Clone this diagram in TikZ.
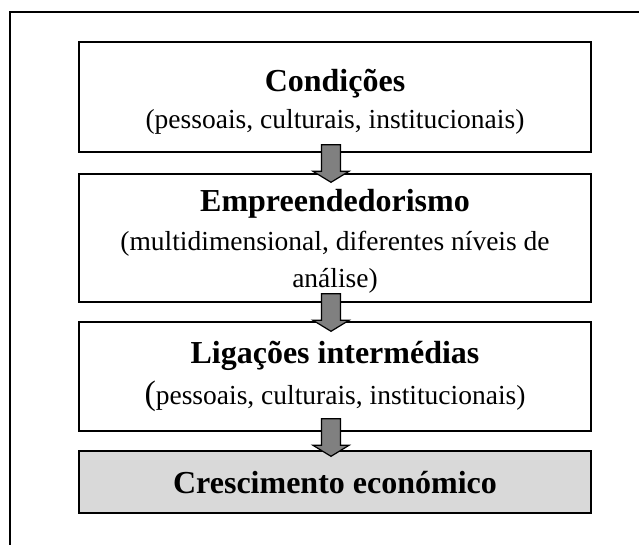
\documentclass[tikz,border=0pt]{standalone}
\usepackage{fontspec}
\setmainfont{Liberation Serif}
\usetikzlibrary{calc}
\definecolor{arrowgray}{HTML}{808080}
\definecolor{boxgray}{HTML}{D9D9D9}
\tikzset{
  stagebox/.style={draw=black, line width=1.4pt, fill=white, minimum width=512pt, inner sep=0pt},
  titletext/.style={font=\fontsize{32}{36}\selectfont\bfseries, inner sep=0pt},
  subtext/.style={font=\fontsize{27.5}{31}\selectfont, inner sep=0pt},
  blockarrow/.style={draw=black, line width=1.2pt, fill=arrowgray, line join=miter},
}
\newcommand\blockarr[2]{%
  \draw[blockarrow] let \p1=(#1), \p2=(#2) in
    (\x1-9.5pt,\y1) -- (\x1+9.5pt,\y1) -- (\x1+9.5pt,\y2+11pt) -- (\x1+18pt,\y2+11pt)
    -- (\x1,\y2) -- (\x1-18pt,\y2+11pt) -- (\x1-9.5pt,\y2+11pt) -- cycle;}
\begin{document}
\begin{tikzpicture}[x=1pt,y=-1pt]
\useasboundingbox (0,0) rectangle (639,544);
\begin{scope}
\clip (0,0) rectangle (639,544);
\draw[line width=1.5pt] (10,12) rectangle (660,570);
\end{scope}
% boxes
\node[stagebox, minimum height=110pt] (b1) at (335,97) {};
\node[stagebox, minimum height=128pt] (b2) at (335,238) {};
\node[stagebox, minimum height=109pt] (b3) at (335,376.5) {};
\node[stagebox, minimum height=62pt, fill=boxgray] (b4) at (335,482) {};
% texts
\node[titletext] (t1) at (335,84) {Condições};
\node[subtext] (s1) at (335,122) {(pessoais, culturais, institucionais)};
\node[titletext] (t2) at (335,204) {Empreendedorismo};
\node[subtext] (s2) at (335,244) {(multidimensional, diferentes níveis de};
\node[subtext] (s2b) at (335,281) {análise)};
\node[titletext] (t3) at (335,356) {Ligações intermédias};
\node[subtext] (s3) at (335,396) {{\fontsize{34}{34}\selectfont(}pessoais, culturais, institucionais)};
\node[titletext] (t4) at (335,483) {Crescimento económico};
% arrows
\coordinate (a1s) at ($(b1.south)+(-4,-8)$);
\coordinate (a1e) at ($(b2.north)+(-4,9)$);
\coordinate (a2s) at ($(b2.south)+(-4,-9)$);
\coordinate (a2e) at ($(b3.north)+(-4,10)$);
\coordinate (a3s) at ($(b3.south)+(-4,-13)$);
\coordinate (a3e) at ($(b4.north)+(-4,6)$);
\blockarr{a1s}{a1e}
\blockarr{a2s}{a2e}
\blockarr{a3s}{a3e}
\end{tikzpicture}
\end{document}
